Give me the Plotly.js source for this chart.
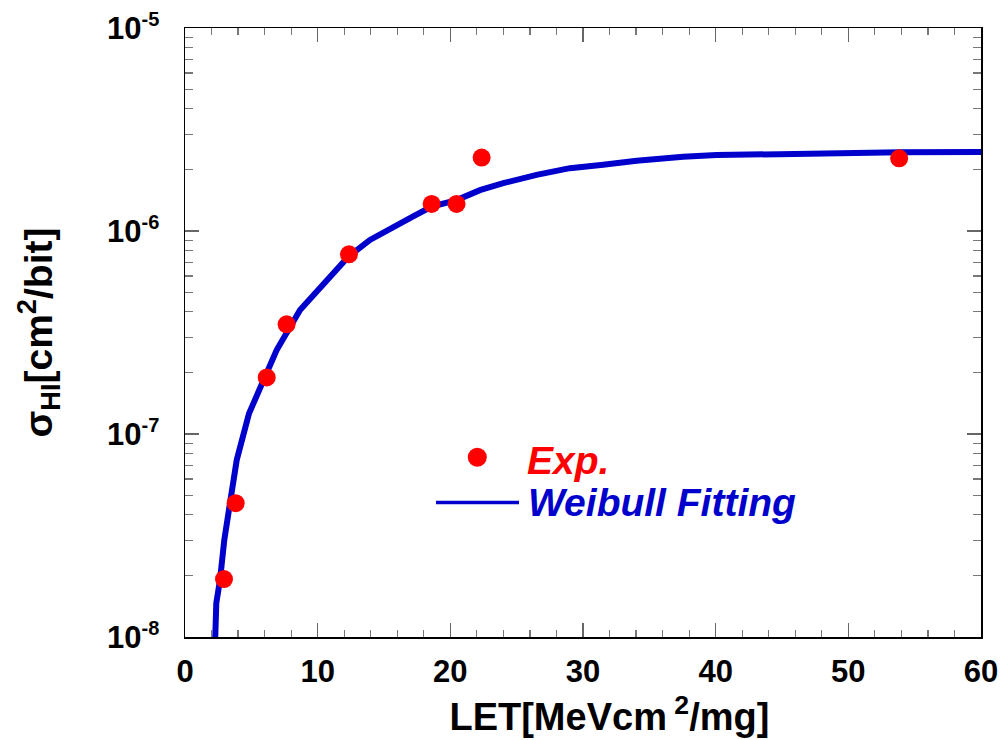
<!DOCTYPE html>
<html>
<head>
<meta charset="utf-8">
<script src="https://cdn.plot.ly/plotly-3.0.1.min.js"></script>
<style>html,body{margin:0;padding:0;background:#fff;}#chart{width:1005px;height:740px;}</style>
</head>
<body>
<div id="chart"></div>
<script>
// Experimental points
const expLET = [2.94, 3.82, 6.16, 7.66, 12.36, 18.59, 20.47, 22.36, 53.83];
const expSigma = [1.93e-8, 4.56e-8, 1.90e-7, 3.47e-7, 7.68e-7, 1.36e-6, 1.36e-6, 2.30e-6, 2.28e-6];

// Weibull fitting curve
const fitLET = [2.28, 2.36, 2.64, 2.96, 3.39, 3.90, 4.82, 5.90, 6.91, 8.67, 10.68, 12.31, 13.94, 15.45, 17.20, 18.59, 20.47, 22.23, 23.99, 26.50, 29.01, 31.52, 34.04, 37.55, 40.07, 44.8, 49.0, 53.9, 60.0];
const fitSigma = [1.0e-8, 1.47e-8, 1.91e-8, 3.0e-8, 4.56e-8, 7.45e-8, 1.26e-7, 1.85e-7, 2.59e-7, 4.08e-7, 5.74e-7, 7.47e-7, 9.04e-7, 1.03e-6, 1.18e-6, 1.32e-6, 1.42e-6, 1.59e-6, 1.72e-6, 1.89e-6, 2.04e-6, 2.12e-6, 2.22e-6, 2.32e-6, 2.37e-6, 2.39e-6, 2.42e-6, 2.44e-6, 2.45e-6];

// Tick labels
const xTickVals = [0, 10, 20, 30, 40, 50, 60];
const xTickText = ['0', '10', '20', '30', '40', '50', '60'];
const yTickVals = [1e-8, 1e-7, 1e-6, 1e-5];
const yExponents = ['-8', '-7', '-6', '-5'];
const yTickText = yExponents.map(e => '10<sup><span style="font-size:20px">' + e + '</span></sup>');

const yMinor = [];
for (let e = -8; e < -5; e++) {
  for (let m = 2; m <= 9; m++) yMinor.push(m * Math.pow(10, e));
}

const FONT = 'Arial, "Liberation Sans", sans-serif';
const BLUE = '#0000cc';
const RED = '#ff0000';

const traces = [
  {
    x: fitLET, y: fitSigma, type: 'scatter', mode: 'lines',
    name: 'Weibull Fitting',
    line: {color: BLUE, width: 6},
    showlegend: false, hoverinfo: 'skip'
  },
  {
    x: expLET, y: expSigma, type: 'scatter', mode: 'markers',
    name: 'Exp.',
    marker: {color: RED, size: 18, line: {width: 0}},
    showlegend: false
  }
];

const axisCommon = {
  showgrid: false, zeroline: false,
  showline: true, linecolor: '#000', linewidth: 1.5, mirror: 'ticks',
  ticks: 'inside', ticklen: 14, tickwidth: 1.5, tickcolor: '#666',
  tickfont: {family: FONT, size: 31, color: '#000', weight: 'bold'},
};

const layout = {
  width: 1005, height: 740,
  margin: {l: 185, r: 24, t: 28, b: 103, pad: 0},
  paper_bgcolor: '#fff', plot_bgcolor: '#fff',
  showlegend: false,
  xaxis: Object.assign({}, axisCommon, {
    range: [0, 60],
    tickmode: 'array', tickvals: xTickVals, ticktext: xTickText,
    ticklabelstandoff: 6,
    minor: {dtick: 2, tick0: 0, ticks: 'inside', ticklen: 7, tickwidth: 1.2, tickcolor: '#777'},
    title: {
      text: '&nbsp;&nbsp;&nbsp;&nbsp;&nbsp;LET[MeVcm<sup>&nbsp;2</sup>/mg]',
      font: {family: FONT, size: 38, color: '#000', weight: 'bold'},
      standoff: 15
    }
  }),
  yaxis: Object.assign({}, axisCommon, {
    type: 'log', range: [-8, -5],
    tickmode: 'array', tickvals: yTickVals, ticktext: yTickText,
    tickfont: {family: FONT, size: 31, color: '#000', weight: 'bold'},
    ticklabelstandoff: 18,
    minor: {tickmode: 'array', tickvals: yMinor, ticks: 'inside', ticklen: 8, tickwidth: 1.2, tickcolor: '#777'},
    title: {
      text: 'σ<sub>HI</sub>[cm<sup>2</sup>/bit]',
      font: {family: FONT, size: 39, color: '#000', weight: 'bold'},
      standoff: 42
    }
  }),
  shapes: [
    {type: 'circle', xref: 'paper', yref: 'paper', x0: 0.3553, x1: 0.3791, y0: 0.2795, y1: 0.3107,
     fillcolor: RED, line: {width: 0}},
    {type: 'line', xref: 'paper', yref: 'paper', x0: 0.3153, x1: 0.4196, y0: 0.2209, y1: 0.2209,
     line: {color: BLUE, width: 3.5}}
  ],
  annotations: [
    {xref: 'paper', yref: 'paper', x: 0.4272, y: 0.2890, xanchor: 'left', yanchor: 'middle',
     text: '<b><i>Exp.</i></b>', showarrow: false,
     font: {family: FONT, size: 39, color: RED}},
    {xref: 'paper', yref: 'paper', x: 0.4284, y: 0.2204, xanchor: 'left', yanchor: 'middle',
     text: '<b><i>Weibull Fitting</i></b>', showarrow: false,
     font: {family: FONT, size: 39, color: BLUE}}
  ]
};

Plotly.newPlot('chart', traces, layout, {displayModeBar: false, staticPlot: true});
</script>
</body>
</html>
